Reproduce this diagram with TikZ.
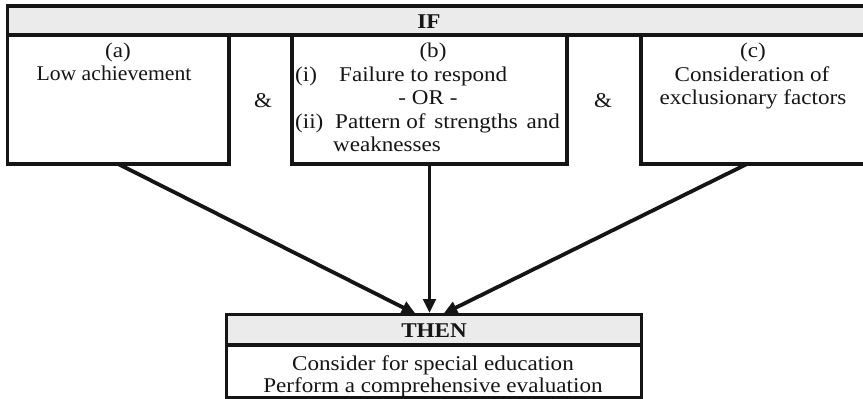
\documentclass[tikz,border=0pt]{standalone}
\usepackage{fontspec}
\setmainfont{Liberation Serif}[FakeStretch=1.1]
\usetikzlibrary{arrows.meta}
\definecolor{barfill}{HTML}{EBEBEB}
\definecolor{ink}{HTML}{151515}
\begin{document}
\begin{tikzpicture}[x=1pt,y=-1pt,
  box/.style={draw=ink, line width=3.8pt, inner sep=0pt, outer sep=0pt},
  txt/.style={inner sep=0pt, anchor=base, text=ink, font=\fontsize{21}{24}\selectfont},
  txtl/.style={txt, anchor=base west},
  btxt/.style={txt, font=\bfseries\fontsize{21}{24}\selectfont},
  arr/.style={draw=ink, line width=3.8pt, shorten >=1.5pt, -{Triangle[length=14pt,width=12.5pt]}}]
\useasboundingbox (0,0) rectangle (863,399);
\clip (0,0) rectangle (863,399);
% IF bar and condition boxes
\node[box, fill=barfill, minimum width=862pt, minimum height=29pt] (ifbar) at (438.5,20.5) {};
\node[box, minimum width=221.5pt, minimum height=129pt] (a) at (118.25,99.5) {};
\node[box, minimum width=275pt, minimum height=129pt] (b) at (429.5,99.5) {};
\node[box, minimum width=234pt, minimum height=129pt] (c) at (758,99.5) {};
% THEN box
\node[box, fill=barfill, minimum width=415pt, minimum height=30.5pt] (thenhead) at (434,329.75) {};
\node[box, minimum width=415pt, minimum height=52.5pt] (thenbody) at (434,371.25) {};
% texts
\node[btxt] (iftxt) at (429,28) {IF};
\node[txt] (alab) at (118,57) {(a)};
\node[txt] (atxt) at (114,80) {\scalebox{0.94}[1]{Low achievement}};
\node[txt] (and1) at (263,107) {\&};
\node[txt] (blab) at (433,57) {(b)};
\node[txtl] (bi) at (295,81) {(i)};
\node[txtl] (bitxt) at (339,81) {Failure to respond};
\node[txt] (bor) at (428,104) {- OR -};
\node[txtl] (bii) at (295,128) {(ii)};
\node[txtl] (biitxt) at (335,128) {Pattern of\hspace{3pt} strengths\hspace{3pt} and};
\node[txtl] (biitxtb) at (333,151) {weaknesses};
\node[txt] (and2) at (603,107) {\&};
\node[txt] (clab) at (753,57) {(c)};
\node[txt] (ctxt) at (752,81) {Consideration of};
\node[txt] (ctxtb) at (753,104) {exclusionary factors};
\node[btxt] (thentxt) at (434,337) {THEN};
\node[txt] (t1) at (433,370) {Consider for special education};
\node[txt] (t2) at (433,392) {Perform a comprehensive evaluation};
% arrows
\draw[arr] (a.south) -- ([xshift=-17pt]thenhead.north);
\draw[arr] (b.south) -- (b.south |- thenhead.north);
\draw[arr] ([xshift=-11pt]c.south) -- ([xshift=8pt]thenhead.north);
\end{tikzpicture}
\end{document}
